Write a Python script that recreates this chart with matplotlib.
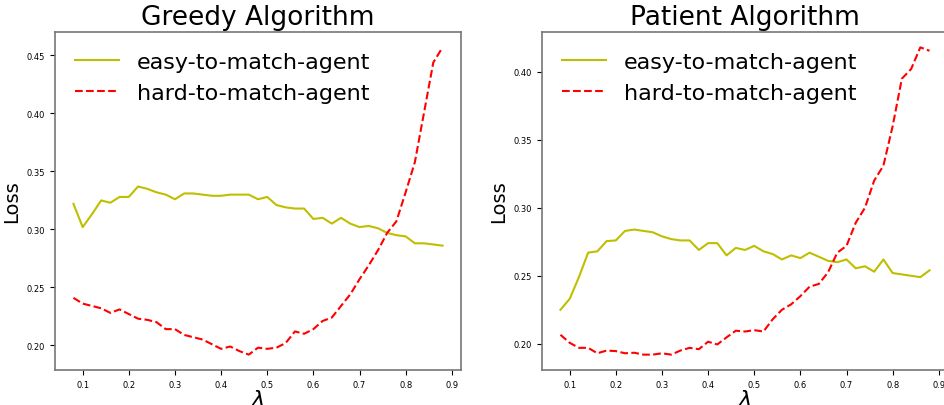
import numpy as np
import matplotlib.pyplot as plt

##################################################
# data
##################################################

lam = [0.08, 0.10, 0.12, 0.14, 0.16, 0.18, 0.20, 0.22, 0.24, 0.26,
       0.28, 0.30, 0.32, 0.34, 0.36, 0.38, 0.40, 0.42, 0.44, 0.46,
       0.48, 0.50, 0.52, 0.54, 0.56, 0.58, 0.60, 0.62, 0.64, 0.66,
       0.68, 0.70, 0.72, 0.74, 0.76, 0.78, 0.80, 0.82, 0.84, 0.86,
       0.88]

greedy_easy = [0.322, 0.302, 0.313, 0.325, 0.323, 0.328, 0.328, 0.337, 0.335, 0.332,
               0.330, 0.326, 0.331, 0.331, 0.330, 0.329, 0.329, 0.330, 0.330, 0.330,
               0.326, 0.328, 0.321, 0.319, 0.318, 0.318, 0.309, 0.310, 0.305, 0.310,
               0.305, 0.302, 0.303, 0.301, 0.297, 0.295, 0.294, 0.288, 0.288, 0.287,
               0.286]

greedy_hard = [0.241, 0.236, 0.234, 0.232, 0.228, 0.231, 0.227, 0.223, 0.222, 0.220,
               0.214, 0.214, 0.209, 0.207, 0.205, 0.201, 0.197, 0.199, 0.195, 0.192,
               0.198, 0.197, 0.198, 0.202, 0.212, 0.210, 0.214, 0.221, 0.224, 0.234,
               0.244, 0.257, 0.269, 0.282, 0.297, 0.307, 0.332, 0.358, 0.401, 0.444,
               0.457]

patient_easy = [0.225, 0.233, 0.249, 0.267, 0.268, 0.2755, 0.276, 0.283, 0.284, 0.283,
                0.282, 0.279, 0.277, 0.276, 0.276, 0.269, 0.274, 0.274, 0.265, 0.2705,
                0.269, 0.272, 0.268, 0.266, 0.262, 0.265, 0.263, 0.267, 0.264, 0.261,
                0.260, 0.262, 0.2555, 0.257, 0.253, 0.262, 0.252, 0.251, 0.250, 0.249,
                0.254]

patient_hard = [0.2066, 0.2007, 0.197, 0.197, 0.193, 0.195, 0.1946, 0.193, 0.1934, 0.192,
                0.192, 0.193, 0.192, 0.195, 0.197, 0.196, 0.2015, 0.1995, 0.2047, 0.2096,
                0.209, 0.210, 0.209, 0.218, 0.225, 0.229, 0.235, 0.242, 0.244, 0.2525,
                0.267, 0.272, 0.289, 0.300, 0.320, 0.331, 0.360, 0.395, 0.402, 0.418,
                0.4155]

titles = ['Greedy Algorithm', 'Patient Algorithm']
xticks = [0.1, 0.2, 0.3, 0.4, 0.5, 0.6, 0.7, 0.8, 0.9]

##################################################
# plot
##################################################

fig = plt.figure(figsize=(9.44, 4.06), dpi=100)
ax1 = fig.add_axes([55/944, 35/406, 406/944, 338/406])
ax2 = fig.add_axes([542/944, 35/406, 406/944, 338/406])

panels = [(ax1, greedy_easy, greedy_hard), (ax2, patient_easy, patient_hard)]

for (ax, easy, hard), title in zip(panels, titles):
    ax.plot(lam, easy, color='y', linewidth=1.5, label='easy-to-match-agent')
    ax.plot(lam, hard, 'r--', linewidth=1.5, label='hard-to-match-agent')
    ax.set_title(title, fontsize=19)
    ax.set_xlabel(r'$\lambda$', fontsize=16, labelpad=0)
    ax.set_ylabel('Loss', fontsize=14)
    ax.set_xticks(xticks)
    ax.tick_params(labelsize=6)
    for s in ax.spines.values():
        s.set_color('#777777')
        s.set_linewidth(1.2)
    ax.legend(loc='upper left', fontsize=16, frameon=False)

fig.savefig('out.png', dpi=100)
plt.close()
